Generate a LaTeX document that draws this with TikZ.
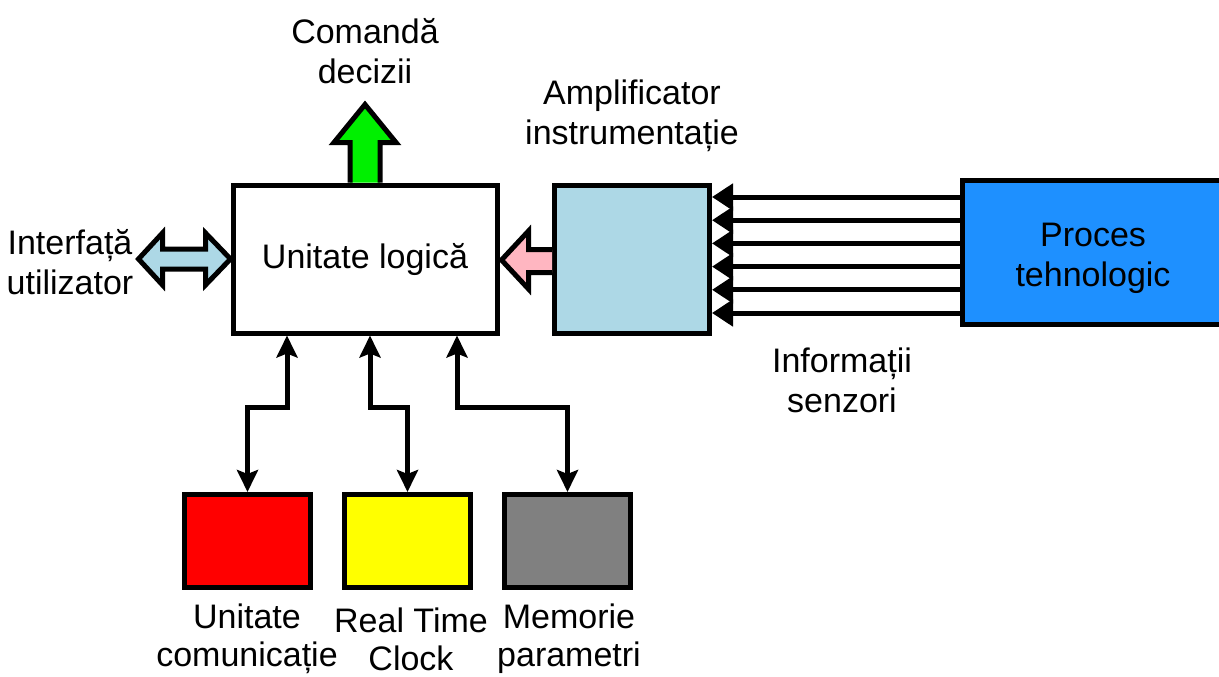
\documentclass[tikz,border=0pt]{standalone}
\usepackage{fontspec}
\setmainfont{Liberation Sans}
\usetikzlibrary{arrows.meta,calc}

\definecolor{lightbluefill}{RGB}{173,216,230}
\definecolor{pinkfill}{RGB}{255,182,193}
\definecolor{greenfill}{RGB}{0,240,0}
\definecolor{redfill}{RGB}{255,0,0}
\definecolor{yellowfill}{RGB}{255,255,0}
\definecolor{grayfill}{RGB}{128,128,128}
\definecolor{procfill}{RGB}{30,144,255}

\begin{document}
\begin{tikzpicture}[x=1pt,y=-1pt,
  txt/.style={font=\fontsize{34}{40}\selectfont, align=center, inner sep=0pt},
  bottxt/.style={txt, font=\fontsize{34}{38}\selectfont},
  blk/.style={draw=black, line width=5pt, inner sep=0pt, txt},
  smallblk/.style={blk, minimum width=126pt, minimum height=93pt},
  fatarrow/.style={draw=black, line width=5pt, line join=miter, miter limit=10},
  sensor/.style={draw=black, line width=5pt, -{Triangle[length=21pt,width=26pt]}},
  bus/.style={draw=black, line width=5pt, line join=miter,
    {Stealth[length=22pt,width=21pt,inset=4pt]}-{Stealth[length=22pt,width=21pt,inset=4pt]}}
]
\useasboundingbox (0,0) rectangle (1219,677);

% main blocks
\node[blk, minimum width=264pt, minimum height=148pt] (ul) at (365,259) {Unitate logică};
\node[blk, fill=lightbluefill, minimum width=155pt, minimum height=148pt] (amp) at (632,259) {};
\node[blk, fill=procfill, minimum width=262.5pt, minimum height=144pt] (proc) at (1093.75,252.5) {};
\node[txt] (proctxt) at (1093,258) {Proces\\tehnologic};

% peripheral blocks
\node[smallblk, fill=redfill] (com) at (247.5,541) {};
\node[smallblk, fill=yellowfill] (rtc) at (407.5,541) {};
\node[smallblk, fill=grayfill] (mem) at (567.5,541) {};

% labels
\node[txt] (cmd) at (365,51) {Comandă\\decizii};
\node[txt] (ui) at (70,262) {Interfață\\utilizator};
\node[txt] (amplbl) at (632,116) {Amplificator\\instrumentație};
\node[txt] (senslbl) at (842,380) {Informații\\senzori};
\node[bottxt] (comlbl) at (247,639) {Unitate\\comunicație};
\node[bottxt] (rtclbl) at (411,639) {Real Time\\Clock};
\node[bottxt] (memlbl) at (569,639) {Memorie\\parametri};

% output arrow (decisions)
\filldraw[fatarrow, fill=greenfill]
  ($(ul.north)+(-15,0)$) -- ($(ul.north)+(-15,-40)$) -- ($(ul.north)+(-31,-40)$)
  -- ($(ul.north)+(0,-78)$) -- ($(ul.north)+(31,-40)$) -- ($(ul.north)+(15,-40)$)
  -- ($(ul.north)+(15,0)$);

% user interface double arrow
\filldraw[fatarrow, fill=lightbluefill]
  (ul.west) -- ($(ul.west)+(-25,-26)$) -- ($(ul.west)+(-25,-10)$)
  -- ($(ul.west)+(-68,-10)$) -- ($(ul.west)+(-68,-26)$) -- ($(ul.west)+(-92,0)$)
  -- ($(ul.west)+(-68,26)$) -- ($(ul.west)+(-68,10)$) -- ($(ul.west)+(-25,10)$)
  -- ($(ul.west)+(-25,26)$) -- cycle;

% amplifier output arrow
\filldraw[fatarrow, fill=pinkfill]
  ($(amp.west)+(0,-9.5)$) -- ($(ul.east)+(29,-9.5)$) -- ($(ul.east)+(29,-28)$)
  -- ($(ul.east)+(2,1)$) -- ($(ul.east)+(29,30)$) -- ($(ul.east)+(29,13.5)$)
  -- ($(amp.west)+(0,13.5)$);

% sensor lines
\foreach \y in {197,220.2,243.4,266.6,289.8,313}
  \draw[sensor] (proc.west |- 0,\y) -- (amp.east |- 0,\y);

% buses to peripherals
\draw[bus] (com.north) -- (com.north |- 0,407) -| ($(ul.south)+(-78,0)$);
\draw[bus] (rtc.north) -- (rtc.north |- 0,407) -| ($(ul.south)+(5,0)$);
\draw[bus] (mem.north) -- (mem.north |- 0,407) -| ($(ul.south)+(92,0)$);
\end{tikzpicture}
\end{document}
